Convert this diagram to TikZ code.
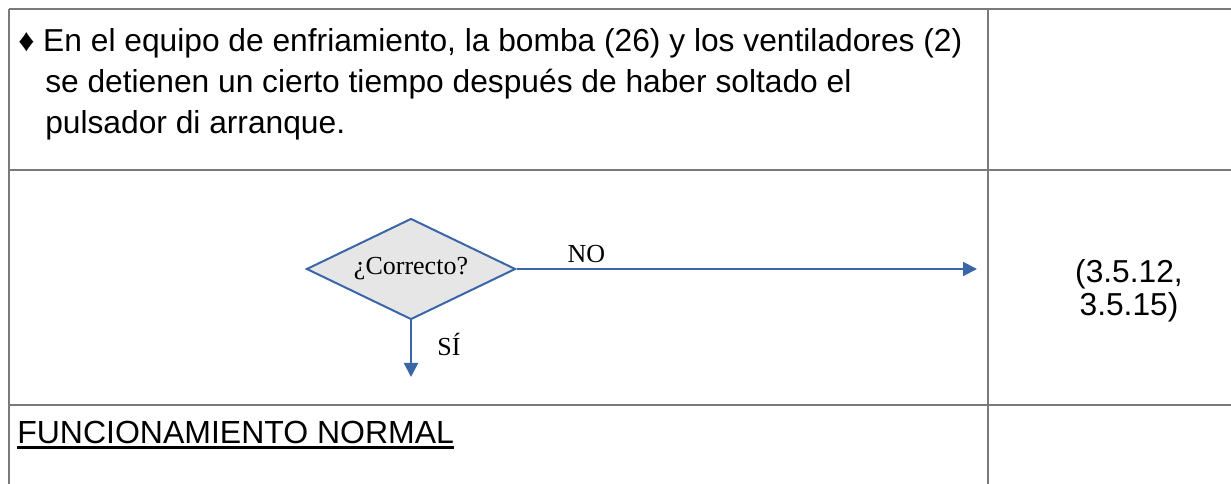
\documentclass[tikz,border=0pt]{standalone}
\usepackage{fontspec}
\setmainfont{Liberation Serif}
\setsansfont{Liberation Sans}
\usetikzlibrary{positioning, arrows.meta, shapes.geometric}
\definecolor{gridLine}{HTML}{7A7A7A}
\definecolor{flowBlue}{HTML}{3A66A8}
\definecolor{bgDecision}{HTML}{E6E6E6}
\definecolor{textMain}{HTML}{000000}
\tikzset{
  gridline/.style={
    draw=gridLine, line width=1.1pt,
  },
  decision/.style={
    diamond, aspect=2.07, draw=flowBlue, fill=bgDecision, line width=1.5pt,
    minimum width=156.75pt, minimum height=75.75pt, inner sep=0pt,
    font=\fontsize{19.5}{22}\selectfont, text=textMain,
  },
  flowarrow/.style={
    -{Triangle[length=10.5pt, width=10.5pt]}, line width=1.5pt, color=flowBlue,
  },
  flowlabel/.style={
    font=\fontsize{19.5}{22}\selectfont, text=textMain, inner sep=0pt,
  },
  celltext/.style={
    font=\sffamily\fontsize{23.8}{30.75}\selectfont, text=textMain,
    inner sep=0pt, align=left,
  },
}

\begin{document}
\begin{tikzpicture}[x=0.75pt, y=-0.75pt]
  \useasboundingbox (0,0) rectangle (1231,484);

  % === Table grid ===
  \draw[gridline] (9,9) -- (1231,9);
  \draw[gridline] (9,170) -- (1231,170);
  \draw[gridline] (9,405) -- (1231,405);
  \draw[gridline] (9,9) -- (9,484);
  \draw[gridline] (988,9) -- (988,484);

  % === Row 1: fault description (base = last line) ===
  \node[celltext, anchor=base west] (fault) at (18,134) {♦ En el equipo de enfriamiento, la bomba (26) y los ventiladores (2)\\\hspace*{20.25pt}se detienen un cierto tiempo después de haber soltado el\\\hspace*{20.25pt}pulsador di arranque.};

  % === Row 2: decision ===
  \node[decision] (check) at (411,269) {¿Correcto?};
  \coordinate (noEnd) at (977,269);
  \coordinate (siEnd) at (411,377);
  \node[celltext, align=center, anchor=base, font=\sffamily\fontsize{23.8}{24.75}\selectfont] (refs) at (1129,316) {(3.5.12,\\3.5.15)};

  \draw[flowarrow] (check.east) -- node[flowlabel, pos=0.152, anchor=base, yshift=4.5pt] {NO} (noEnd);
  \draw[flowarrow] (check.south) -- node[flowlabel, pos=0.62, anchor=base, xshift=28.5pt] {SÍ} (siEnd);

  % === Row 3: result ===
  \node[celltext, anchor=base west, font=\sffamily\fontsize{24}{28}\selectfont] (normal) at (17,443) {FUNCIONAMIENTO NORMAL};
  \draw[line width=2.5pt] ([yshift=-3.2pt]normal.base west) -- ([yshift=-3.2pt]normal.base east);

\end{tikzpicture}
\end{document}
